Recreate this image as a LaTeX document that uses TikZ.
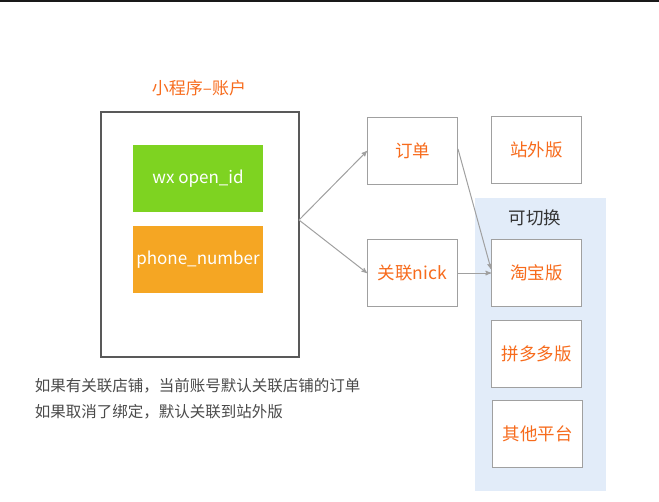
\documentclass[tikz,border=0pt]{standalone}
\usepackage{fontspec}
\setmainfont{Noto Sans CJK SC}
\usetikzlibrary{positioning, arrows}
\definecolor{labelorange}{HTML}{F76B1C}
\definecolor{wxgreen}{HTML}{7ED321}
\definecolor{phoneorange}{HTML}{F5A623}
\definecolor{switchblue}{HTML}{E2ECF9}
\definecolor{boxgray}{HTML}{A0A0A0}
\definecolor{notegray}{HTML}{4A4A4A}
\tikzset{
every node/.style={font=\fontsize{17.5}{26}\selectfont}, % same text size everywhere
platform/.style={draw=boxgray, line width=1pt, fill=white, minimum width=90pt, minimum height=67pt, text=labelorange}, % the small white boxes
field/.style={minimum width=130pt, minimum height=67pt, text=white, inner sep=0pt, font=\fontsize{17}{20}\selectfont}, % the coloured fields in the account
}

\begin{document}
\begin{tikzpicture}[->,>=stealth',x=1pt,y=-1pt,%
node distance=13pt,line width=1pt]
\useasboundingbox (0,0) rectangle (659,501);
\draw[-,line width=2pt,black!90] (0,1) -- (659,1);
% account
\node[text=labelorange,font=\fontsize{17}{20}\selectfont] (title) at (199,88) {小程序–账户};
\node[draw=black!65,line width=1.2pt,minimum width=198pt,minimum height=245pt] (account) at (200,234.5) {};
\node[field,fill=wxgreen] (openid) at (198,178.5) {wx open\_id};
\node[field,fill=phoneorange] (phone) at (198,259.5) {phone\_number};
\coordinate (fork) at (299,220);
% switchable platforms
\node[fill=switchblue,minimum width=131pt,minimum height=293pt] (switch) at (540.5,344.5) {};
\node[text=black!80] (switchlabel) at (535,218) {可切换};
\node[platform] (order) at (412.5,151) {订单};
\node[platform] (nick) [below=54pt of order] {关联nick};
\node[platform] (taobao) [right=33pt of nick] {淘宝版};
\node[platform] (offsite) [above=55pt of taobao] {站外版};
\node[platform] (pdd) [below=of taobao] {拼多多版};
\node[platform] (other) [below=12pt of pdd, xshift=1pt] {其他平台};
% note
\node[text=notegray,anchor=west,align=left,font=\fontsize{15.5}{26}\selectfont] (note) at (31,399) {如果有关联店铺，当前账号默认关联店铺的订单\\如果取消了绑定，默认关联到站外版};
\path[every edge/.style={draw=boxgray}] (fork) edge (order.west)
edge (nick.west)
([yshift=2pt]order.east) edge ([yshift=4pt]taobao.west)
(nick) edge (taobao);
\end{tikzpicture}
\end{document}
